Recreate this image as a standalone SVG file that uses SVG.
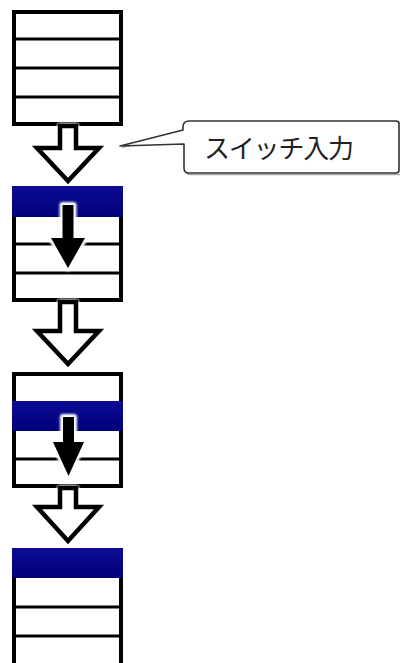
<svg xmlns="http://www.w3.org/2000/svg" width="401" height="663" viewBox="0 0 401 663">
<style>
.box{fill:#fff;stroke:#000;stroke-width:4}
.div{stroke:#000;stroke-width:3}
.sel{fill:url(#blue)}
.hollow{fill:#fff;stroke:#000;stroke-width:4.5;stroke-linejoin:miter}
.solid{fill:#000}
.halo{fill:#fff;stroke:#fff;stroke-width:6;stroke-linejoin:round;filter:url(#glow)}
.call{fill:#fff;stroke:#333;stroke-width:1.6;stroke-linejoin:round}
.callsh{fill:none;stroke:#aaa;stroke-width:1.6}
.lbl{font-family:"Noto Sans CJK JP","Noto Sans CJK SC",sans-serif;font-size:26px;fill:#222}
</style>
<defs>
<linearGradient id="blue" x1="0" y1="0" x2="0" y2="1">
<stop offset="0" stop-color="#0c0c94"/>
<stop offset="1" stop-color="#00007a"/>
</linearGradient>
<filter id="glow" x="-30%" y="-30%" width="160%" height="160%">
<feGaussianBlur stdDeviation="1.3"/>
</filter>
</defs>
<rect width="401" height="663" fill="#fff"/>

<g id="stack1">
<rect class="box" x="14" y="12" width="107" height="112"/>
<line class="div" x1="14" y1="39" x2="121" y2="39"/>
<line class="div" x1="14" y1="68" x2="121" y2="68"/>
<line class="div" x1="14" y1="97" x2="121" y2="97"/>
</g>

<g id="stack2">
<rect class="box" x="14" y="188" width="107" height="112"/>
<line class="div" x1="14" y1="244" x2="121" y2="244"/>
<line class="div" x1="14" y1="273" x2="121" y2="273"/>
<rect class="sel" x="12" y="186" width="111" height="31"/>
</g>

<g id="stack3">
<rect class="box" x="14" y="374" width="107" height="112"/>
<line class="div" x1="14" y1="459" x2="121" y2="459"/>
<rect class="sel" x="12" y="401" width="111" height="30"/>
</g>

<g id="stack4">
<rect class="box" x="14" y="550" width="107" height="118"/>
<line class="div" x1="14" y1="607" x2="121" y2="607"/>
<line class="div" x1="14" y1="636" x2="121" y2="636"/>
<rect class="sel" x="12" y="548" width="111" height="30"/>
</g>

<g id="callout">
<path class="callsh" d="M122,147.5 L185,131.5 L185,128 Q185,122.5 190.5,122.5 L400,122.5 M400,174.5 L190.5,174.5 Q185.5,174.5 185.5,169 L185.5,146"/>
<path class="call" d="M120,146 L183,130 L183,127 Q183,121 189,121 L396,121 Q399,121 399,124 L399,170 Q399,173 396,173 L189,173 Q184,173 184,168 L184,144 Z"/>
<text class="lbl" x="204" y="158" textLength="150" lengthAdjust="spacing">スイッチ入力</text>
</g>

<g id="connectors">
<path class="halo" d="M60,126 H76 V148 H99 L68,181 L37,148 H60 Z"/>
<path class="hollow" d="M60,126 H76 V148 H99 L68,181 L37,148 H60 Z"/>
<path class="halo" d="M60,302 H76 V331 H99 L68,364 L37,331 H60 Z"/>
<path class="hollow" d="M60,302 H76 V331 H99 L68,364 L37,331 H60 Z"/>
<path class="halo" d="M60,488 H76 V507 H99 L68,541 L37,507 H60 Z"/>
<path class="hollow" d="M60,488 H76 V507 H99 L68,541 L37,507 H60 Z"/>
<path class="halo" d="M62.5,205 H73.5 V238 H85 L68,268 L51,238 H62.5 Z"/>
<path class="solid" d="M62.5,205 H73.5 V238 H85 L68,268 L51,238 H62.5 Z"/>
<path class="halo" d="M63,417 H74 V442 H84 L68.5,476 L53,442 H63 Z"/>
<path class="solid" d="M63,417 H74 V442 H84 L68.5,476 L53,442 H63 Z"/>
</g>
</svg>
